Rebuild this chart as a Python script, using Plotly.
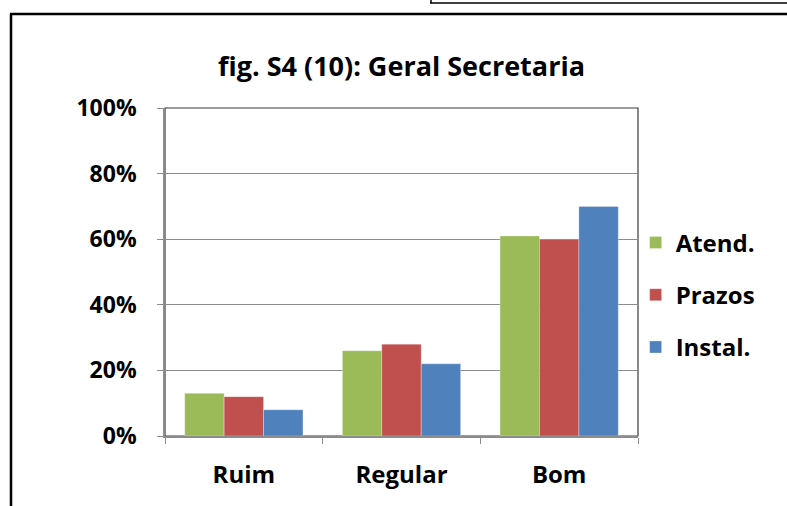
import plotly.graph_objects as go

# ratings and share of answers per aspect
categorias = ["Ruim", "Regular", "Bom"]
atend = [0.13, 0.26, 0.61]
prazos = [0.12, 0.28, 0.60]
instal = [0.08, 0.22, 0.70]

series = [("Atend.", atend, "#9BBB59"), ("Prazos", prazos, "#C0504D"), ("Instal.", instal, "#4F81BD")]

FONT = "Open Sans"

fig = go.Figure()
for nome, vals, cor in series:
    fig.add_trace(go.Bar(
        x=categorias, y=vals, name=nome, legendgroup=nome,
        marker=dict(color=cor, line=dict(color="rgba(255,255,255,0.6)", width=0.5)),
    ))

W, H = 787, 506
L, R, T, B = 165, 149, 108, 70
pw, ph = W - L - R, H - T - B


def px(x):
    return (x - L) / pw


def py(y):
    return (H - B - y) / ph


shapes = [
    # outer chart frame (left + top)
    dict(type="line", xref="paper", yref="paper", x0=px(11), x1=px(11), y0=py(14), y1=py(520),
         line=dict(color="black", width=2.5)),
    dict(type="line", xref="paper", yref="paper", x0=px(10), x1=px(800), y0=py(14), y1=py(14),
         line=dict(color="black", width=2.5)),
    # bit of the box above
    dict(type="line", xref="paper", yref="paper", x0=px(431), x1=px(431), y0=py(-5), y1=py(3),
         line=dict(color="black", width=1.5)),
    dict(type="line", xref="paper", yref="paper", x0=px(430), x1=px(800), y0=py(3), y1=py(3),
         line=dict(color="black", width=1.5)),
    # plot area border
    dict(type="rect", xref="paper", yref="paper", x0=0, x1=1, y0=0, y1=1,
         line=dict(color="#3a3a3a", width=1.2), layer="below"),
]

fig.update_layout(
    width=W, height=H,
    margin=dict(l=L, r=R, t=T, b=B),
    paper_bgcolor="white", plot_bgcolor="white",
    barmode="group", bargap=0.25, bargroupgap=0,
    font=dict(family=FONT, color="black"),
    title=dict(text="<b>fig. S4 (10): Geral Secretaria</b>", x=0.5, xref="paper", xanchor="center",
               y=1 - 67 / H, yanchor="middle", font=dict(size=27, family=FONT, color="black")),
    legend=dict(x=0.995, xanchor="left", y=0.43, yanchor="middle", tracegroupgap=18,
                font=dict(size=24, family=FONT, color="black", weight="bold"),
                itemwidth=30, bgcolor="rgba(0,0,0,0)"),
    showlegend=True,
    shapes=shapes,
)

fig.update_yaxes(
    range=[0, 1], dtick=0.2, tickformat=".0%",
    showgrid=True, gridcolor="#8c8c8c", gridwidth=1,
    showline=True, linecolor="#8c8c8c", linewidth=1.5,
    ticks="outside", ticklen=6, tickcolor="#8c8c8c",
    tickfont=dict(size=23, family=FONT, color="black", weight="bold"),
    ticklabelstandoff=16, zeroline=False,
)
fig.update_xaxes(
    showline=True, linecolor="#8c8c8c", linewidth=1.5,
    ticks="outside", ticklen=6, tickcolor="#8c8c8c", tickson="boundaries",
    tickfont=dict(size=24, family=FONT, color="black", weight="bold"),
    ticklabelstandoff=16,
)

# page body has a default margin; drop it so the figure sits at the window corner
fig.write_html("out.html", config={"displayModeBar": False},
               post_script="document.body.style.margin='0';")
